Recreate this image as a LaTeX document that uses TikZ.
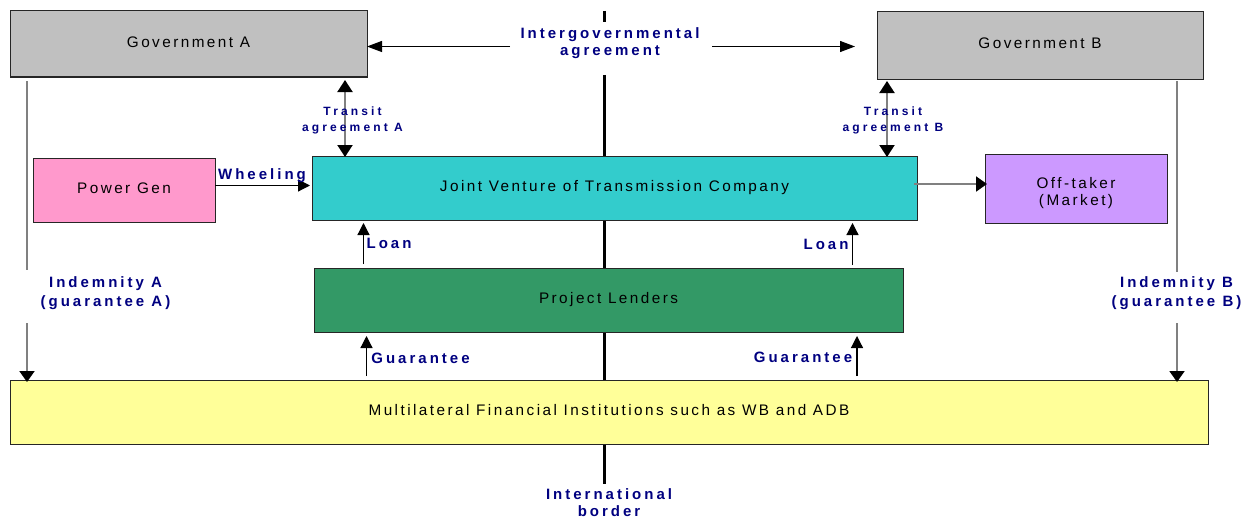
\documentclass[tikz,border=0pt]{standalone}
\usepackage{fontspec}
\setmainfont{Liberation Sans}
\newfontfamily\boxfont[LetterSpace=16]{Liberation Sans}
\newfontfamily\lblfont[LetterSpace=20]{Liberation Sans}
\newfontfamily\smlfont[LetterSpace=26]{Liberation Sans}
\usetikzlibrary{arrows.meta}
\definecolor{govgray}{HTML}{C0C0C0}
\definecolor{pgpink}{HTML}{FF99CC}
\definecolor{jvcyan}{HTML}{33CCCC}
\definecolor{offviolet}{HTML}{CC99FF}
\definecolor{plgreen}{HTML}{339966}
\definecolor{mfiyellow}{HTML}{FFFF99}
\definecolor{lblnavy}{HTML}{000080}
\definecolor{lngray}{HTML}{808080}
\begin{document}
\begin{tikzpicture}[x=1pt,y=-1pt,
  box/.style={draw=black!85, line width=1pt, inner sep=0pt, outer sep=0pt, align=center,
    font=\boxfont\fontsize{15.3}{17}\selectfont},
  onel/.style={text height=10.7pt, text depth=4pt},
  lbl/.style={text=lblnavy, inner sep=0pt, align=center, anchor=base,
    font=\lblfont\bfseries\fontsize{15}{17}\selectfont},
  smlbl/.style={text=lblnavy, inner sep=0pt, align=center, anchor=base,
    font=\smlfont\bfseries\fontsize{12}{16}\selectfont},
  border/.style={line width=3pt, black},
  arr/.style={line width=1.2pt, black, -{Triangle[length=12pt,width=12pt]}},
  igarr/.style={line width=1.2pt, black, -{Triangle[length=15pt,width=11pt]}},
  garr/.style={line width=2pt, lngray, -{Triangle[length=11pt,width=15pt,color=black]}},
  gdarr/.style={line width=2pt, lngray, {Triangle[length=12pt,width=15pt,color=black]}-{Triangle[length=12pt,width=15pt,color=black]}},
  gline/.style={line width=2pt, lngray}
]
\useasboundingbox (0,0) rectangle (1258,519);

% international border
\coordinate (bT) at (604,11);
\coordinate (bG1) at (604,22);
\coordinate (bG2) at (604,75);
\coordinate (bB) at (604,484);
\draw[border] (bT) -- (bG1);
\draw[border] (bG2) -- (bB);

% boxes
\node[box,onel,fill=govgray,minimum width=357pt,minimum height=66pt] (govA) at (188.5,44) {Government A};
\node[box,onel,fill=govgray,minimum width=326pt,minimum height=67pt] (govB) at (1040,45.5) {Government B};
\node[box,onel,fill=pgpink,minimum width=182pt,minimum height=64pt] (pg) at (124,190) {Power Gen};
\node[box,onel,fill=jvcyan,minimum width=605pt,minimum height=64pt] (jv) at (614.5,188) {Joint Venture of Transmission Company};
\node[box,fill=offviolet,minimum width=182pt,minimum height=69pt] (off) at (1076,188.5) {\rule{0pt}{20pt}Off-taker\\(Market)};
\node[box,onel,fill=plgreen,minimum width=589pt,minimum height=64pt] (pl) at (608.5,300) {Project Lenders};
\node[box,onel,fill=mfiyellow,minimum width=1198pt,minimum height=64pt] (mfi) at (609,412) {Multilateral Financial Institutions such as WB and ADB};

% intergovernmental agreement
\node[lbl] (iga) at (610,56) {Intergovernmental\\agreement};
\coordinate (igaL) at (510,46.5);
\coordinate (igaR) at (712,46.5);
\draw[igarr] (igaL) -- (igaL -| govA.east);
\draw[igarr] (igaR) -- ([xshift=-22pt]igaR -| govB.west);

% transit agreements
\coordinate (xTA) at (345,0);
\coordinate (xTB) at (887,0);
\draw[gdarr] ([yshift=-3pt]govA.south -| xTA) -- ([yshift=-1pt]jv.north -| xTA);
\draw[gdarr] ([yshift=-2pt]govB.south -| xTB) -- ([yshift=-1pt]jv.north -| xTB);
\node[smlbl] (tA) at (352.5,131) {Transit\\agreement A};
\node[smlbl] (tB) at (893,131) {Transit\\agreement B};

% wheeling
\coordinate (yW) at (0,185.5);
\draw[arr] (pg.east |- yW) -- ([xshift=-2pt]jv.west |- yW);
\node[lbl] (wh) at (262,179) {Wheeling};

% to off-taker
\coordinate (yO) at (0,184);
\draw[garr] ([xshift=-3pt]jv.east |- yO) -- ([xshift=2pt]off.west |- yO);

% loans
\coordinate (xLA) at (363.5,0);
\coordinate (xLB) at (852.5,0);
\draw[arr] ([yshift=4pt]pl.north -| xLA) -- ([yshift=-3pt]jv.south -| xLA);
\draw[arr] ([yshift=3pt]pl.north -| xLB) -- ([yshift=-3pt]jv.south -| xLB);
\node[lbl] (lA) at (389,248.5) {Loan};
\node[lbl] (lB) at (826,249.5) {Loan};

% guarantees
\coordinate (xGA) at (366.5,0);
\coordinate (xGB) at (857,0);
\draw[arr] ([yshift=4pt]mfi.north -| xGA) -- ([yshift=-4pt]pl.south -| xGA);
\draw[arr] ([yshift=4pt]mfi.north -| xGB) -- ([yshift=-4pt]pl.south -| xGB);
\node[lbl] (gA) at (420.5,363) {Guarantee};
\node[lbl] (gB) at (803,362) {Guarantee};

% indemnities
\coordinate (iA1) at (27,270);
\coordinate (iA2) at (27,323);
\coordinate (iB1) at (1177,271.5);
\coordinate (iB2) at (1177,323);
\draw[gline] ([yshift=-4pt]govA.south -| iA1) -- (iA1);
\draw[garr] (iA2) -- ([yshift=-2pt]mfi.north -| iA2);
\draw[gline] ([yshift=-2pt]govB.south -| iB1) -- (iB1);
\draw[garr] (iB2) -- ([yshift=-2pt]mfi.north -| iB2);
\node[lbl,font=\lblfont\bfseries\fontsize{15}{19}\selectfont] (indA) at (105.5,306) {Indemnity A\\(guarantee A)};
\node[lbl,font=\lblfont\bfseries\fontsize{15}{19}\selectfont] (indB) at (1176.5,306) {Indemnity B\\(guarantee B)};

% border label
\node[lbl] (ib) at (609,516) {International\\border};
\end{tikzpicture}
\end{document}
